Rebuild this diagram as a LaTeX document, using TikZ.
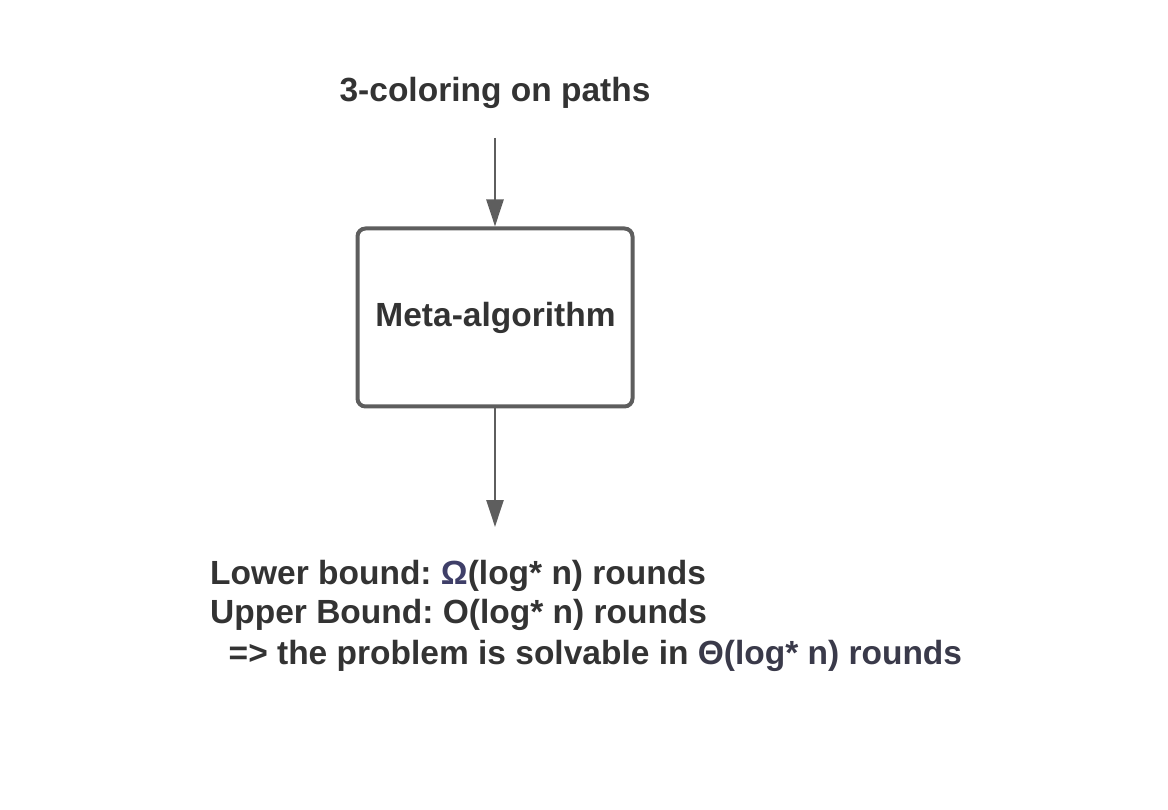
\documentclass[tikz,border=0pt]{standalone}
\usepackage{fontspec}
\setmainfont{Liberation Sans}
\usepackage{xcolor}
\usetikzlibrary{arrows.meta}
\frenchspacing

\definecolor{txtgray}{HTML}{333333}
\definecolor{linegray}{HTML}{5E5E5E}
\definecolor{omegablue}{HTML}{3F3F68}
\definecolor{thetagray}{HTML}{3A3A4A}

\tikzset{
  lbl/.style={text=txtgray, font=\fontsize{33.5}{40}\selectfont\bfseries, inner sep=0pt},
  flow/.style={draw=linegray, line width=2.5pt, -{Triangle[width=17pt,length=27pt]}},
  metabox/.style={draw=linegray, line width=4pt, rounded corners=8pt,
    minimum width=275pt, minimum height=178pt, inner sep=0pt}
}

\begin{document}
\begin{tikzpicture}[x=1pt,y=-1pt]
\useasboundingbox (0,0) rectangle (1168,810);
\node[lbl, anchor=base] (title) at (495,102) {3-coloring on paths};
\node[metabox, lbl] (meta) at (495,317.5) {};
\node[lbl, anchor=base] (metatext) at (495.5,327) {Meta-algorithm};
\coordinate (start) at (495,138);
\coordinate (finish) at (495,527);
\draw[flow] (start) -- (meta.north);
\draw[flow] (meta.south) -- (finish);
% result lines
\node[lbl, anchor=base west] (lower) at (210,584) {Lower bound: \textcolor{omegablue}{Ω}(log* n) rounds};
\node[lbl, anchor=base west] (upper) at (210,623) {Upper Bound: O(log* n) rounds};
\node[lbl, anchor=base west] (result) at (210,664) {\hspace*{18.5pt}=> the problem is solvable in \textcolor{thetagray}{Θ(log* n) rounds}};
\end{tikzpicture}
\end{document}
